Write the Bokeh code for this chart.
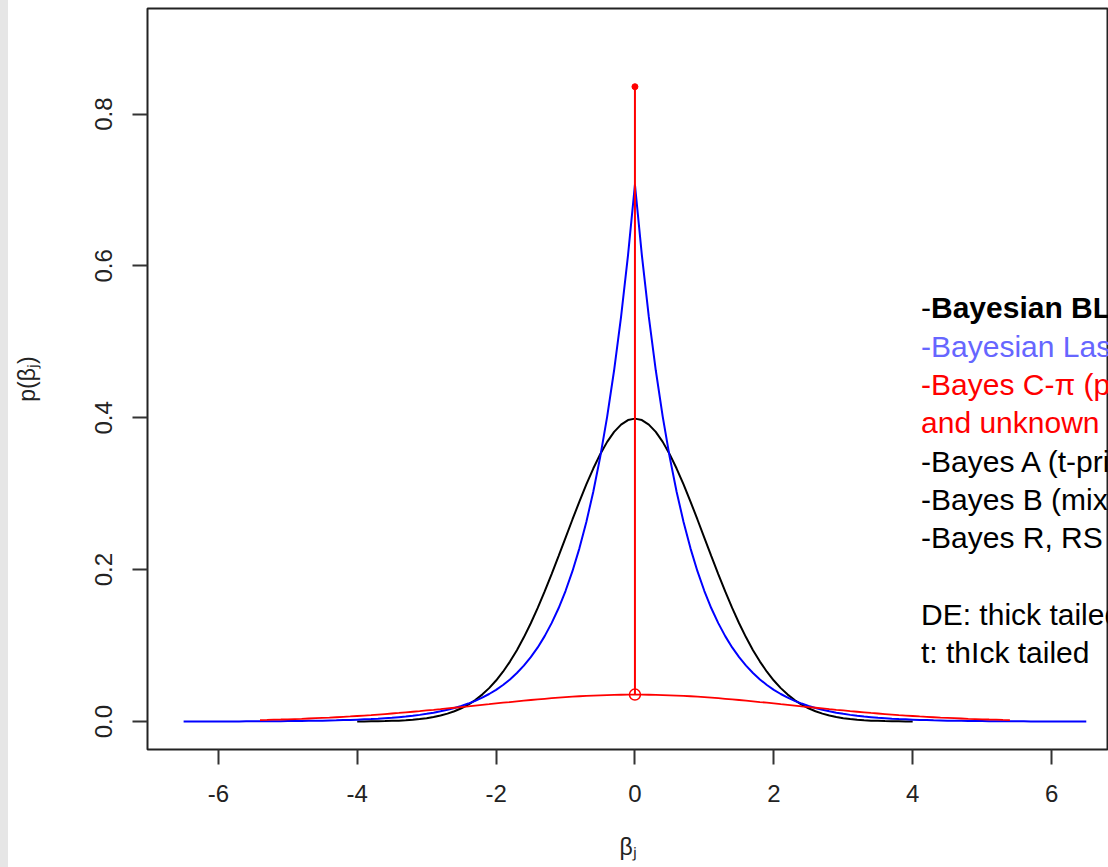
import numpy as np
from bokeh.plotting import figure
from bokeh.layouts import row
from bokeh.models import Range1d, FixedTicker, PrintfTickFormatter, Spacer
from bokeh.embed import file_html
from bokeh.resources import INLINE
from bokeh.core.properties import value

# ---------------- data ----------------
# Normal prior (Bayesian BLUP), beta from -4 to 4 step 0.1
normal_density = [
    0.0001, 0.0002, 0.0003, 0.0004, 0.0006, 0.0009, 0.0012, 0.0017, 0.0024, 0.0033,
    0.0044, 0.0060, 0.0079, 0.0104, 0.0136, 0.0175, 0.0224, 0.0283, 0.0355, 0.0440,
    0.0540, 0.0656, 0.0790, 0.0940, 0.1109, 0.1295, 0.1497, 0.1714, 0.1942, 0.2179,
    0.2420, 0.2661, 0.2897, 0.3123, 0.3332, 0.3521, 0.3683, 0.3814, 0.3910, 0.3970,
    0.3989,
    0.3970, 0.3910, 0.3814, 0.3683, 0.3521, 0.3332, 0.3123, 0.2897, 0.2661, 0.2420,
    0.2179, 0.1942, 0.1714, 0.1497, 0.1295, 0.1109, 0.0940, 0.0790, 0.0656, 0.0540,
    0.0440, 0.0355, 0.0283, 0.0224, 0.0175, 0.0136, 0.0104, 0.0079, 0.0060, 0.0044,
    0.0033, 0.0024, 0.0017, 0.0012, 0.0009, 0.0006, 0.0004, 0.0003, 0.0002, 0.0001,
]
normal_range = (-4.0, 4.0)

# Double exponential prior (Bayesian Lasso), beta from -6.5 to 6.5 step 0.1
laplace_density = [
    0.0001, 0.0001, 0.0001, 0.0001, 0.0001, 0.0001, 0.0002, 0.0002, 0.0002, 0.0003,
    0.0003, 0.0003, 0.0004, 0.0005, 0.0005, 0.0006, 0.0007, 0.0008, 0.0009, 0.0010,
    0.0012, 0.0014, 0.0016, 0.0019, 0.0021, 0.0025, 0.0029, 0.0033, 0.0038, 0.0044,
    0.0050, 0.0058, 0.0066, 0.0076, 0.0088, 0.0102, 0.0117, 0.0135, 0.0155, 0.0179,
    0.0206, 0.0237, 0.0273, 0.0315, 0.0363, 0.0418, 0.0481, 0.0555, 0.0639, 0.0736,
    0.0848, 0.0976, 0.1125, 0.1296, 0.1492, 0.1719, 0.1980, 0.2281, 0.2628, 0.3027,
    0.3486, 0.4016, 0.4626, 0.5329, 0.6138,
    0.7071,
    0.6138, 0.5329, 0.4626, 0.4016, 0.3486, 0.3027, 0.2628, 0.2281, 0.1980, 0.1719,
    0.1492, 0.1296, 0.1125, 0.0976, 0.0848, 0.0736, 0.0639, 0.0555, 0.0481, 0.0418,
    0.0363, 0.0315, 0.0273, 0.0237, 0.0206, 0.0179, 0.0155, 0.0135, 0.0117, 0.0102,
    0.0088, 0.0076, 0.0066, 0.0058, 0.0050, 0.0044, 0.0038, 0.0033, 0.0029, 0.0025,
    0.0021, 0.0019, 0.0016, 0.0014, 0.0012, 0.0010, 0.0009, 0.0008, 0.0007, 0.0006,
    0.0005, 0.0005, 0.0004, 0.0003, 0.0003, 0.0003, 0.0002, 0.0002, 0.0002, 0.0001,
    0.0001, 0.0001, 0.0001, 0.0001, 0.0001,
]
laplace_range = (-6.5, 6.5)

# Bayes C-pi: slab part of the mixture, beta from -5.4 to 5.4 step 0.1
mixture_density = [
    0.0020, 0.0022, 0.0025, 0.0027, 0.0030, 0.0033, 0.0036, 0.0040, 0.0044, 0.0048,
    0.0052, 0.0057, 0.0062, 0.0067, 0.0073, 0.0079, 0.0085, 0.0092, 0.0099, 0.0106,
    0.0113, 0.0121, 0.0129, 0.0137, 0.0146, 0.0154, 0.0163, 0.0173, 0.0182, 0.0191,
    0.0200, 0.0210, 0.0220, 0.0229, 0.0239, 0.0248, 0.0257, 0.0267, 0.0276, 0.0284,
    0.0292, 0.0300, 0.0308, 0.0315, 0.0321, 0.0327, 0.0333, 0.0338, 0.0342, 0.0346,
    0.0349, 0.0351, 0.0353, 0.0354,
    0.0355,
    0.0354, 0.0353, 0.0351, 0.0349, 0.0346, 0.0342, 0.0338, 0.0333, 0.0327, 0.0321,
    0.0315, 0.0308, 0.0300, 0.0292, 0.0284, 0.0276, 0.0267, 0.0257, 0.0248, 0.0239,
    0.0229, 0.0220, 0.0210, 0.0200, 0.0191, 0.0182, 0.0173, 0.0163, 0.0154, 0.0146,
    0.0137, 0.0129, 0.0121, 0.0113, 0.0106, 0.0099, 0.0092, 0.0085, 0.0079, 0.0073,
    0.0067, 0.0062, 0.0057, 0.0052, 0.0048, 0.0044, 0.0040, 0.0036, 0.0033, 0.0030,
    0.0027, 0.0025, 0.0022, 0.0020,
]
mixture_range = (-5.4, 5.4)
spike_location = 0.0
spike_top = 0.836

x_ticks = [-6, -4, -2, 0, 2, 4, 6]
y_ticks = [0.0, 0.2, 0.4, 0.6, 0.8]
x_title = "\u03b2\u2c7c"
y_title = "p(\u03b2\u2c7c)"

legend_lines = [
    "-",
    "-Bayesian Lasso (DE prior)",
    "-Bayes C-\u03c0 (point mass at zero",
    "and unknown \u03c0)",
    "-Bayes A (t-prior)",
    "-Bayes B (mixture)",
    "-Bayes R, RS",
    "",
    "DE: thick tailed",
    "t: thIck tailed",
]
legend_bold = "Bayesian BLUP (normal prior)"
legend_colors = ["#000000", "#6666FF", "#FF0000", "#FF0000", "#000000",
                 "#000000", "#000000", "#000000", "#000000", "#000000"]

FONT = "Liberation Sans"

# ---------------- figure ----------------
p = figure(width=1100, height=867,
           x_range=Range1d(-7.02, 6.82), y_range=Range1d(-0.0368, 0.939),
           output_backend="svg", toolbar_location=None,
           min_border_left=139, min_border_right=0,
           min_border_top=8, min_border_bottom=118)
p.grid.visible = False
p.outline_line_color = "#222222"
p.outline_line_width = 2
p.background_fill_color = "white"
p.border_fill_color = "white"

for ax in (p.xaxis[0], p.yaxis[0]):
    ax.axis_line_color = None
    ax.major_tick_out = 15
    ax.major_tick_in = 0
    ax.major_tick_line_width = 2
    ax.major_tick_line_color = "#333333"
    ax.minor_tick_line_color = None
    ax.major_label_text_font = FONT
    ax.major_label_text_font_size = "24px"
    ax.major_label_text_color = "#222222"
    ax.axis_label_text_font = FONT
    ax.axis_label_text_font_size = "23px"
    ax.axis_label_text_font_style = "normal"
    ax.axis_label_text_color = "#222222"

p.xaxis.ticker = FixedTicker(ticks=x_ticks)
p.xaxis.formatter = PrintfTickFormatter(format="%d")
p.xaxis.major_label_standoff = 20
p.xaxis.axis_label = x_title
p.xaxis.axis_label_standoff = 29
p.yaxis.ticker = FixedTicker(ticks=y_ticks)
p.yaxis.formatter = PrintfTickFormatter(format="%.1f")
p.yaxis.major_label_orientation = "vertical"
p.yaxis.major_label_standoff = 20
p.yaxis.axis_label = y_title
p.yaxis.axis_label_standoff = 53


def grid(rng, vals):
    return np.round(np.linspace(rng[0], rng[1], len(vals)), 2)


p.line(grid(normal_range, normal_density), normal_density,
       line_color="black", line_width=2)
p.line(grid(laplace_range, laplace_density), laplace_density,
       line_color="#0000FF", line_width=2)
mx = grid(mixture_range, mixture_density)
p.line(mx, mixture_density, line_color="#FF0000", line_width=1.8)

spike_base = mixture_density[int(np.argmin(np.abs(mx - spike_location)))]
p.segment(x0=[spike_location], y0=[spike_base], x1=[spike_location], y1=[spike_top],
          line_color="#FF0000", line_width=2)
p.scatter([spike_location], [spike_base], marker="circle", size=11,
          fill_color=None, line_color="#FF0000", line_width=1.5)
p.scatter([spike_location], [spike_top], marker="circle", size=6,
          fill_color="#FF0000", line_color="#FF0000")

# legend text block on the right
text_x = 4.12
top_y = 0.5447
step_y = 0.05043
ys = [top_y - i * step_y for i in range(len(legend_lines))]
p.text(x=[text_x] * len(legend_lines), y=ys, text=legend_lines,
       text_color=legend_colors, text_font=value(FONT), text_font_size="30px",
       text_baseline="middle", text_align="left")
p.text(x=[text_x], y=[ys[0]], text=[legend_bold], x_offset=10,
       text_color="#000000", text_font=value(FONT), text_font_size="30px",
       text_font_style="bold", text_baseline="middle", text_align="left")

strip = Spacer(width=8, height=867, styles={"background-color": "#e6e6e6"})
layout = row(strip, p)

open("out.html", "w").write(file_html(layout, INLINE))
